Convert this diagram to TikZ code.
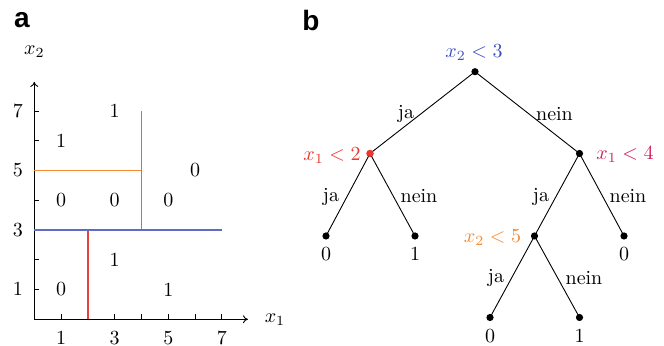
\documentclass[tikz,border=0pt]{standalone}
\usepackage{fontspec}
\usetikzlibrary{arrows.meta}
\newfontfamily\panelfont{Liberation Sans}
\definecolor{cblue}{HTML}{3D4FC0}
\definecolor{cred}{HTML}{E8372D}
\definecolor{ccrim}{HTML}{D01E5A}
\definecolor{corange}{HTML}{F58A32}
\definecolor{lblue}{HTML}{5F6CC4}
\definecolor{lpink}{HTML}{D4608E}
\definecolor{lorange}{HTML}{F58A30}
\definecolor{lred}{HTML}{E8403A}
\begin{document}
\begin{tikzpicture}[x=0.5pt,y=-0.5pt,
  panel/.style={font=\panelfont\bfseries\fontsize{14}{14}\selectfont},
  dot/.style={circle,fill=black,inner sep=0pt,minimum size=3.6pt},
  reddot/.style={circle,fill=cred,inner sep=0pt,minimum size=3.6pt},
  edge/.style={line width=0.45pt},
  axis/.style={line width=0.45pt,-{To[length=2.5pt,width=4pt]}},
  tick/.style={line width=0.45pt},
  split/.style={line width=0.8pt}]
\useasboundingbox (0,0) rectangle (664,346);
\node[panel] (pa) at (22,20) {a};
\node[panel] (pb) at (311,20) {b};

% ---------- panel a ----------
\begin{scope}[shift={(17.15pt,-159.65pt)},x=13.4pt,y=14.875pt]
  \coordinate (o) at (0,0);
  \coordinate (xe) at (7.97,0);
  \coordinate (ye) at (0,7.98);
  \draw[axis] (o) -- (xe);
  \draw[axis] (o) -- (ye);
  \foreach \i in {1,...,7} {
    \draw[tick] (\i,0) -- (\i,0.17);
    \draw[tick] (0,\i) -- (0.19,\i);
  }
  \foreach \i in {1,3,5,7} {
    \node (xt\i) at (\i,-0.63) {$\i$};
    \node (yt\i) at (-0.61,\i) {$\i$};
  }
  \node (xl) at (8.98,-0.03) {$x_1$};
  \node (yl) at (0,8.99) {$x_2$};
  \draw[split,lred] (2,0) -- (2,3);
  \draw[split,lorange] (0,5) -- (4,5);
  \draw[split,lpink] (4,3) -- (4,7);
  \draw[split,lblue] (0,3) -- (7,3);
  \node (c1) at (1,6) {1};
  \node (c2) at (3,7) {1};
  \node (c3) at (6,5) {0};
  \node (c4) at (1,4) {0};
  \node (c5) at (3,4) {0};
  \node (c6) at (5,4) {0};
  \node (c7) at (3,2) {1};
  \node (c8) at (1,1) {0};
  \node (c9) at (5,1) {1};
\end{scope}

% ---------- panel b ----------
\node[dot] (r) at (475,71.7) {};
\node[reddot] (L) at (370,153.5) {};
\node[dot] (R) at (579.5,153.5) {};
\node[dot] (LL) at (326,236) {};
\node[dot] (LR) at (415,236) {};
\node[dot] (RL) at (534.5,236) {};
\node[dot] (RR) at (624,236) {};
\node[dot] (RLL) at (490,317.5) {};
\node[dot] (RLR) at (579.5,317.5) {};

\draw[edge] (r.center) -- (L.center);
\draw[edge] (r.center) -- (R.center);
\draw[edge] (L.center) -- (LL.center);
\draw[edge] (L.center) -- (LR.center);
\draw[edge] (R.center) -- (RL.center);
\draw[edge] (R.center) -- (RR.center);
\draw[edge] (RL.center) -- (RLL.center);
\draw[edge] (RL.center) -- (RLR.center);
\node[reddot] at (L) {};

\node[text=cblue] (tr) at (474,53) {$x_2<3$};
\node[text=cred] (tL) at (332,156) {$x_1<2$};
\node[text=ccrim] (tR) at (625,155) {$x_1<4$};
\node[text=corange] (tRL) at (492.5,238) {$x_2<5$};

\node (e1) at (406,114) {ja};
\node (e2) at (554.5,114.5) {nein};
\node (e3) at (331,196.5) {ja};
\node (e4) at (419,196.5) {nein};
\node (e5) at (541,196.5) {ja};
\node (e6) at (628,196.5) {nein};
\node (e7) at (496,278) {ja};
\node (e8) at (584,278) {nein};

\node (vLL) at (326,254) {0};
\node (vLR) at (415,254) {1};
\node (vRR) at (624,254) {0};
\node (vRLL) at (490,336) {0};
\node (vRLR) at (579.5,336) {1};
\end{tikzpicture}
\end{document}
